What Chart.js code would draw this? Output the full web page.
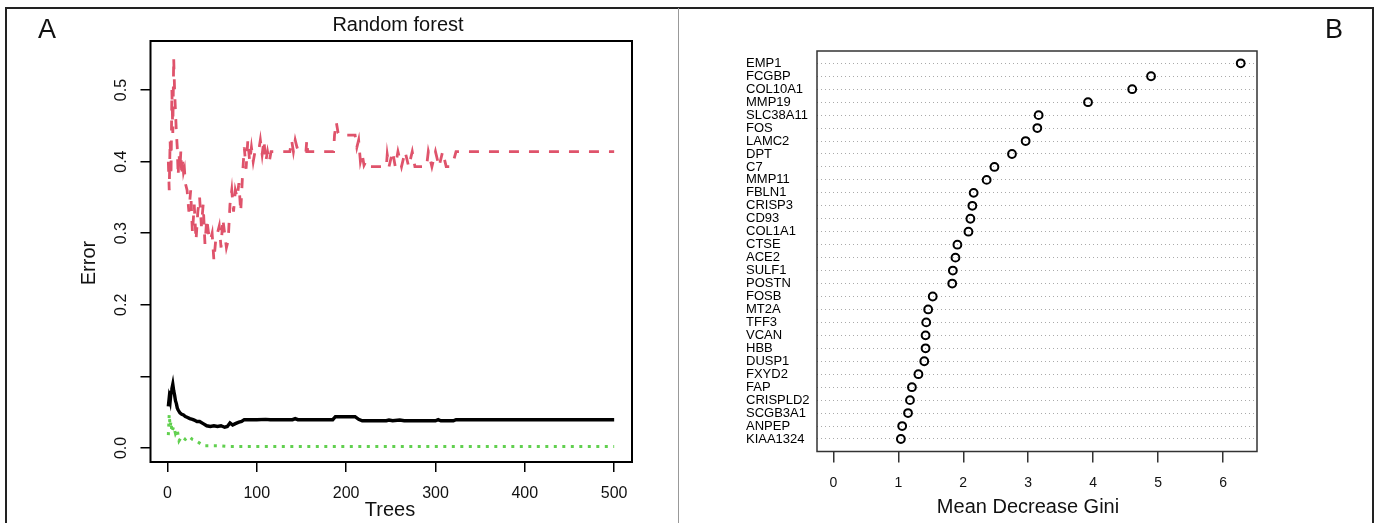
<!DOCTYPE html>
<html lang="en">
<head>
  <meta charset="UTF-8" />
  <title>Random forest error and gene importance</title>
  <script src="https://cdn.jsdelivr.net/npm/chart.js"></script>
  <style>
    body {
      margin: 0;
      width: 1375px;
      height: 523px;
      overflow: hidden;
      background: #fff;
      position: relative;
      font-family: 'Liberation Sans', Arial, sans-serif;
    }
    canvas { position: absolute; top: 0; }
    #chartA { left: 0; }
    #chartB { left: 679px; }
    .frame {
      position: absolute;
      left: 5px; top: 7px;
      width: 1365px; height: 540px;
      border: 2px solid #222;
      z-index: 2;
      pointer-events: none;
    }
    .sep {
      position: absolute;
      left: 678px; top: 8px;
      width: 1px; height: 520px;
      background: #999;
      z-index: 2;
    }
  </style>
</head>
<body>
  <canvas id="chartA" width="679" height="523"></canvas>
  <canvas id="chartB" width="696" height="523"></canvas>
  <div class="frame"></div>
  <div class="sep"></div>

  <script>
    // panel A: error rate against number of trees
    const treeTicks = [0, 100, 200, 300, 400, 500];
    const errTicks = [0, 0.1, 0.2, 0.3, 0.4, 0.5];
    const errTickLabels = ['0.0', '', '0.2', '0.3', '0.4', '0.5'];

    const oobTrees = [1, 2, 3, 4, 5, 6, 7, 8, 9, 10, 11, 12, 14, 16, 18, 20, 22, 25, 28, 30, 33, 36, 40, 44, 48, 52, 56, 60, 64, 67, 70, 73, 76, 80, 83, 86, 100, 110, 115, 140, 143, 146, 185, 188, 210, 214, 218, 245, 248, 252, 260, 265, 300, 303, 306, 320, 323, 500];
    const oobErr = [0.058, 0.070, 0.065, 0.078, 0.083, 0.089, 0.080, 0.074, 0.066, 0.062, 0.056, 0.053, 0.049, 0.047, 0.046, 0.044, 0.043, 0.041, 0.040, 0.039, 0.037, 0.037, 0.034, 0.031, 0.030, 0.031, 0.030, 0.031, 0.029, 0.030, 0.035, 0.032, 0.034, 0.036, 0.037, 0.0395, 0.0395, 0.040, 0.0395, 0.0395, 0.041, 0.0395, 0.0395, 0.0437, 0.0437, 0.040, 0.038, 0.038, 0.039, 0.038, 0.039, 0.038, 0.038, 0.0395, 0.038, 0.038, 0.0395, 0.0395];

    const redTrees = [1, 2, 3, 4, 5, 6, 7, 8, 9, 10, 11, 12, 13, 14, 15, 16, 17, 18, 19, 20, 22, 24, 26, 28, 30, 32, 34, 36, 38, 40, 42, 44, 46, 48, 50, 52, 54, 56, 58, 60, 62, 64, 66, 68, 70, 72, 74, 76, 78, 80, 82, 84, 86, 88, 90, 92, 94, 96, 98, 102, 104, 106, 108, 110, 112, 114, 116, 137, 139, 141, 143, 145, 147, 155, 156, 157, 186, 187, 189, 191, 193, 210, 212, 214, 216, 218, 220, 222, 224, 245, 246, 248, 252, 255, 258, 262, 266, 270, 274, 277, 290, 292, 296, 300, 304, 308, 312, 316, 320, 323, 500];
    const redErr = [0.40, 0.36, 0.43, 0.38, 0.50, 0.44, 0.545, 0.50, 0.47, 0.44, 0.42, 0.38, 0.41, 0.39, 0.415, 0.38, 0.40, 0.385, 0.39, 0.37, 0.36, 0.33, 0.36, 0.30, 0.34, 0.29, 0.33, 0.35, 0.31, 0.34, 0.285, 0.32, 0.30, 0.29, 0.30, 0.262, 0.29, 0.30, 0.31, 0.28, 0.32, 0.30, 0.28, 0.29, 0.34, 0.36, 0.33, 0.36, 0.35, 0.37, 0.33, 0.38, 0.42, 0.39, 0.43, 0.40, 0.42, 0.40, 0.414, 0.414, 0.43, 0.41, 0.43, 0.40, 0.414, 0.40, 0.414, 0.414, 0.43, 0.414, 0.43, 0.42, 0.414, 0.414, 0.43, 0.414, 0.414, 0.437, 0.455, 0.44, 0.437, 0.437, 0.42, 0.43, 0.40, 0.41, 0.395, 0.40, 0.393, 0.393, 0.41, 0.393, 0.414, 0.393, 0.414, 0.393, 0.414, 0.393, 0.414, 0.393, 0.393, 0.414, 0.393, 0.414, 0.393, 0.414, 0.393, 0.393, 0.40, 0.414, 0.414];

    const greenTrees = [1, 2, 3, 4, 5, 7, 9, 11, 13, 16, 20, 24, 28, 32, 37, 41, 60, 70, 500];
    const greenErr = [0.018, 0.047, 0.030, 0.037, 0.022, 0.030, 0.020, 0.025, 0.010, 0.016, 0.012, 0.016, 0.012, 0.010, 0.006, 0.003, 0.003, 0.002, 0.002];

    // panel B: variable importance
    const genes = ['EMP1', 'FCGBP', 'COL10A1', 'MMP19', 'SLC38A11', 'FOS', 'LAMC2', 'DPT', 'C7', 'MMP11',
      'FBLN1', 'CRISP3', 'CD93', 'COL1A1', 'CTSE', 'ACE2', 'SULF1', 'POSTN', 'FOSB', 'MT2A',
      'TFF3', 'VCAN', 'HBB', 'DUSP1', 'FXYD2', 'FAP', 'CRISPLD2', 'SCGB3A1', 'ANPEP', 'KIAA1324'];
    const gini = [6.27, 4.89, 4.60, 3.92, 3.16, 3.14, 2.96, 2.75, 2.48, 2.36,
      2.16, 2.14, 2.11, 2.08, 1.91, 1.88, 1.84, 1.83, 1.53, 1.46,
      1.43, 1.42, 1.42, 1.40, 1.31, 1.21, 1.18, 1.15, 1.06, 1.04];
    const giniTicks = [0, 1, 2, 3, 4, 5, 6];

    const FONT = "'Liberation Sans', Arial, sans-serif";
    const pts = (xs, ys) => xs.map((x, i) => ({ x, y: ys[i] }));

    const panelADecor = {
      id: 'panelADecor',
      afterDraw(chart) {
        const { ctx, chartArea: a } = chart;
        const y = chart.scales.y;
        ctx.save();
        ctx.strokeStyle = '#000';
        ctx.lineWidth = 2;
        ctx.strokeRect(a.left, a.top, a.right - a.left, a.bottom - a.top);

        ctx.fillStyle = '#111';
        ctx.textAlign = 'center';
        ctx.textBaseline = 'middle';
        ctx.font = '16px ' + FONT;
        errTicks.forEach((v, i) => {
          if (!errTickLabels[i]) return;
          ctx.save();
          ctx.translate(122, y.getPixelForValue(v));
          ctx.rotate(-Math.PI / 2);
          ctx.fillText(errTickLabels[i], 0, 0);
          ctx.restore();
        });

        ctx.font = '20px ' + FONT;
        ctx.fillText('Random forest', 398, 25);
        ctx.fillText('Trees', 390, 510);
        ctx.save();
        ctx.translate(89, 263);
        ctx.rotate(-Math.PI / 2);
        ctx.fillText('Error', 0, 0);
        ctx.restore();

        ctx.font = '27px ' + FONT;
        ctx.fillText('A', 47, 31);
        ctx.restore();
      }
    };

    new Chart(document.getElementById('chartA'), {
      type: 'line',
      data: {
        datasets: [
          { label: 'OOB', data: pts(oobTrees, oobErr), borderColor: '#000', borderWidth: 3.4 },
          { label: 'class 2', data: pts(redTrees, redErr), borderColor: '#DF536B', borderWidth: 2.8, borderDash: [10, 10] },
          { label: 'class 1', data: pts(greenTrees, greenErr), borderColor: '#61D04F', borderWidth: 3, borderDash: [3, 5.5] }
        ]
      },
      options: {
        responsive: false,
        animation: false,
        layout: { padding: { left: 140.5, top: 41, right: 47, bottom: 0 } },
        elements: { point: { radius: 0 }, line: { tension: 0, borderCapStyle: 'butt' } },
        plugins: { legend: { display: false }, tooltip: { enabled: false } },
        scales: {
          x: {
            type: 'linear', min: -18.96, max: 519.96,
            afterBuildTicks: s => { s.ticks = treeTicks.map(v => ({ value: v })); },
            afterFit: s => { s.height = 61; },
            grid: { display: true, drawOnChartArea: false, drawTicks: true, tickLength: 10, color: '#000', lineWidth: 1.5 },
            border: { display: false },
            ticks: { display: true, autoSkip: false, maxRotation: 0, padding: 12, color: '#111', font: { size: 16, family: FONT }, callback: v => String(v) }
          },
          y: {
            type: 'linear', min: -0.0196, max: 0.5685,
            afterBuildTicks: s => { s.ticks = errTicks.map(v => ({ value: v })); },
            afterFit: s => { s.width = 10; },
            grid: { display: true, drawOnChartArea: false, drawTicks: true, tickLength: 10, color: '#000', lineWidth: 1.5 },
            border: { display: false },
            ticks: { display: false }
          }
        }
      },
      plugins: [panelADecor]
    });

    const panelBDecor = {
      id: 'panelBDecor',
      afterDraw(chart) {
        const { ctx, chartArea: a } = chart;
        ctx.save();
        ctx.strokeStyle = '#333';
        ctx.lineWidth = 1.5;
        ctx.strokeRect(a.left, a.top, a.right - a.left, a.bottom - a.top);
        ctx.fillStyle = '#111';
        ctx.textAlign = 'center';
        ctx.textBaseline = 'middle';
        ctx.font = '20px ' + FONT;
        ctx.fillText('Mean Decrease Gini', 1028 - 679, 507);
        ctx.font = '27px ' + FONT;
        ctx.fillText('B', 1334 - 679, 31);
        ctx.restore();
      }
    };

    new Chart(document.getElementById('chartB'), {
      type: 'scatter',
      data: {
        datasets: [{
          data: gini.map((g, i) => ({ x: g, y: genes.length - i })),
          pointStyle: 'circle',
          pointRadius: 3.9,
          pointBorderWidth: 2,
          pointBorderColor: '#000',
          pointBackgroundColor: 'rgba(0,0,0,0)'
        }]
      },
      options: {
        responsive: false,
        animation: false,
        layout: { padding: { left: 67, top: 51, right: 118, bottom: 0 } },
        plugins: { legend: { display: false }, tooltip: { enabled: false } },
        scales: {
          x: {
            type: 'linear', min: -0.2508, max: 6.5208,
            afterBuildTicks: s => { s.ticks = giniTicks.map(v => ({ value: v })); },
            afterFit: s => { s.height = 71.5; },
            grid: { display: true, drawOnChartArea: false, drawTicks: true, tickLength: 11, color: '#333', lineWidth: 1.5 },
            border: { display: false },
            ticks: { display: true, autoSkip: false, maxRotation: 0, padding: 12, color: '#111', font: { size: 14, family: FONT }, callback: v => String(v) }
          },
          y: {
            type: 'linear', min: 0.035, max: 30.95,
            afterBuildTicks: s => { s.ticks = genes.map((g, i) => ({ value: genes.length - i })); },
            afterFit: s => { s.width = 71; },
            grid: { display: true, drawOnChartArea: true, drawTicks: false, color: '#aaa', lineWidth: 1 },
            border: { display: false, dash: [1, 3] },
            ticks: {
              display: true, autoSkip: false, crossAlign: 'far', color: '#000',
              font: { size: 13, family: FONT },
              callback: v => genes[genes.length - v]
            }
          }
        }
      },
      plugins: [panelBDecor]
    });
  </script>
</body>
</html>
